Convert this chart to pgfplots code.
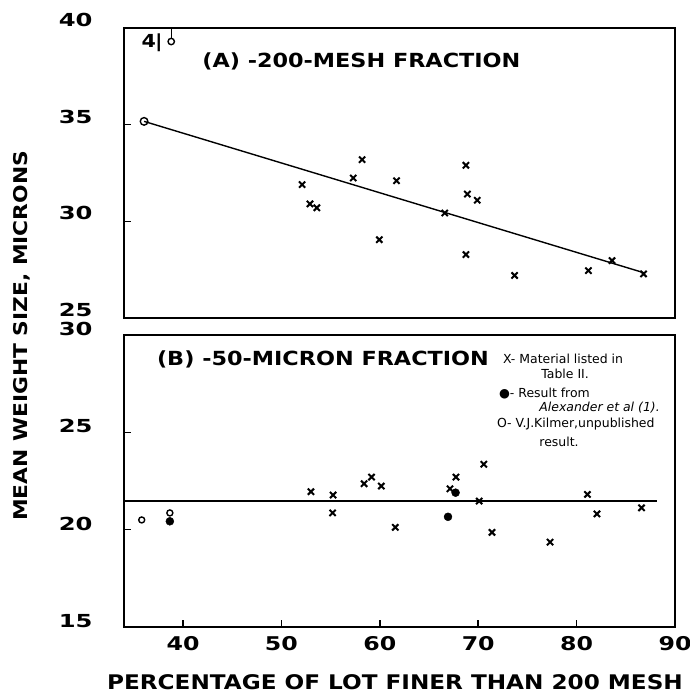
\documentclass[border=0pt]{standalone}
\usepackage{pgfplots}
\pgfplotsset{compat=1.18}
\usepackage{fontspec}
\setmainfont[FakeStretch=1.15]{DejaVu Sans}
\newfontfamily\tickfont[FakeStretch=1.35]{DejaVu Sans}
\newfontfamily\xtickfont[FakeStretch=1.25]{DejaVu Sans}
\newfontfamily\legfont{DejaVu Sans}

\pgfplotstableread{
x y
52.1 31.9
52.9 30.9
53.6 30.7
57.3 32.24
58.2 33.19
59.95 29.05
61.7 32.1
66.6 30.43
68.75 32.9
68.9 31.41
69.9 31.09
68.75 28.28
73.7 27.2
81.2 27.45
83.6 27.97
86.8 27.28
}\topx

\pgfplotstableread{
x y
53.0 21.95
55.25 21.78
55.2 20.86
58.4 22.36
59.16 22.7
60.15 22.24
61.57 20.12
67.13 22.1
67.74 22.7
70.57 23.36
70.1 21.47
71.4 19.86
77.3 19.36
81.1 21.81
82.07 20.81
86.6 21.12
}\botx

\begin{document}
\begin{tikzpicture}
\path[use as bounding box] (0bp,0bp) rectangle (690bp,696bp);
\pgfplotsset{
  every axis/.append style={
    scale only axis, width=551bp,
    xmin=34, xmax=90, clip=false,
    axis line style={line width=1.6bp},
    tick style={line width=1.6bp, black},
    major tick length=7bp,
    tick align=inside,
    yticklabel style={font=\tickfont\bfseries\fontsize{18}{18}\selectfont, anchor=east, xshift=-28bp, yshift=7bp},
    xticklabel style={font=\xtickfont\bfseries\fontsize{19}{19}\selectfont, yshift=-6bp},
    /pgf/number format/assume math mode=true,
    ytick pos=left, xtick pos=bottom,
  },
  xm/.style={only marks, mark=x, mark size=4.4bp, mark options={line width=2bp}, black},
  oc/.style={only marks, mark=o, mark size=3.8bp, mark options={line width=1.4bp, fill=white}, black},
  fc/.style={only marks, mark=*, mark size=4bp, black},
}
\begin{axis}[at={(124bp,378bp)}, anchor=south west, height=290bp,
  ymin=25, ymax=40, ytick={25,30,35,40}, xtick=\empty,
  yticklabel style={yshift=1bp}]
\addplot[black, line width=1.4bp] coordinates {(36.04,35.17) (86.9,27.33)};
\addplot[xm] table[x=x,y=y] {\topx};
\addplot[oc] coordinates {(36.04,35.17)};
\addplot[black, line width=1.3bp] coordinates {(38.8,39.5) (38.8,40)};
\addplot[oc, mark size=3.2bp] coordinates {(38.8,39.3)};
\node[font=\bfseries\fontsize{18}{18}\selectfont] at (axis cs:36.85,39.22) {4\kern-0.05em|};
\node[anchor=west, font=\bfseries\fontsize{19.5}{19.5}\selectfont] at (axis cs:41.6,38.28) {(A) -200-MESH FRACTION};
\end{axis}
\begin{axis}[at={(124bp,69bp)}, anchor=south west, height=292bp,
  ymin=15, ymax=30, ytick={15,20,25,30}, xtick={40,50,...,90},
  yticklabel style={yshift=-1bp}]
\addplot[black, line width=1.4bp] coordinates {(34,21.47) (88.2,21.47)};
\addplot[xm] table[x=x,y=y] {\botx};
\addplot[fc] coordinates {(38.66,20.43) (66.93,20.66) (67.7,21.9)};
\addplot[oc, mark size=3bp] coordinates {(35.8,20.5) (38.66,20.86)};
\node[anchor=west, font=\bfseries\fontsize{19.5}{19.5}\selectfont] at (axis cs:37.0,28.75) {(B) -50-MICRON FRACTION};
\begin{scope}[every node/.style={anchor=west, font=\legfont\fontsize{12.5}{12.5}\selectfont, inner sep=0pt}]
\node at (axis cs:72.5,28.8) {X- Material listed in};
\node at (axis cs:76.4,28.0) {Table II.};
\node at (axis cs:72.1,27.0) {●- Result from};
\node at (axis cs:76.2,26.26) {\itshape Alexander et al (1).};
\node at (axis cs:71.9,25.4) {O- V.J.Kilmer,unpublished};
\node at (axis cs:76.2,24.5) {result.};
\end{scope}
\end{axis}
\node[rotate=90, font=\bfseries\fontsize{19}{19}\selectfont] at (22bp,360bp) {MEAN WEIGHT SIZE, MICRONS};
\node[font=\bfseries\fontsize{20.2}{20.2}\selectfont] at (395bp,14bp) {PERCENTAGE OF LOT FINER THAN 200 MESH};
\end{tikzpicture}
\end{document}
